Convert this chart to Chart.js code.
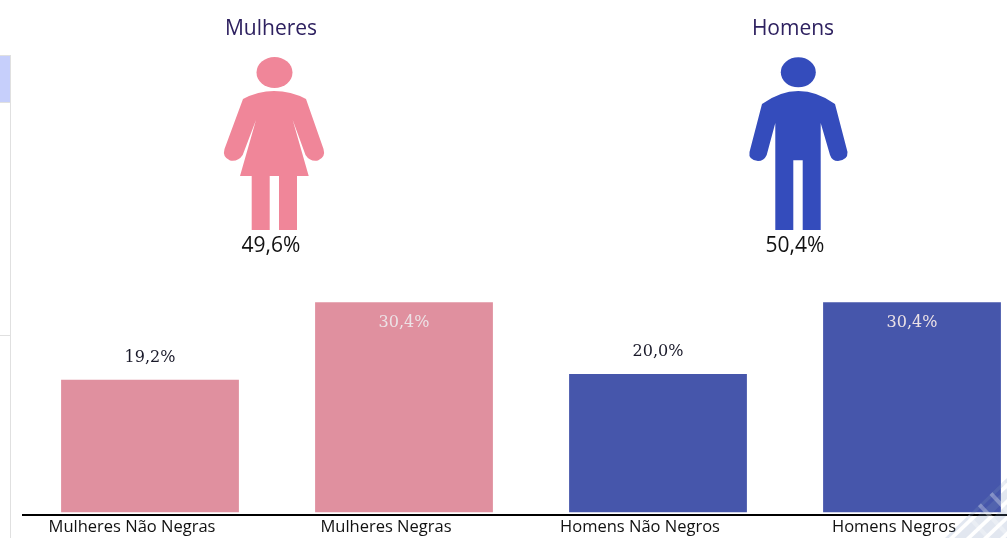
<!DOCTYPE html>
<html lang="pt">
<head>
    <meta charset="UTF-8">
    <title>Mulheres e Homens</title>
    <script src="https://cdn.jsdelivr.net/npm/chart.js"></script>
    <style>
        html, body {
            margin: 0;
            padding: 0;
            background-color: #fff;
            overflow: hidden;
        }

        .chart-container {
            position: relative;
            width: 1007px;
            height: 538px;
            overflow: hidden;
        }
    </style>
</head>
<body>
    <div class="chart-container">
        <canvas id="chart" width="1039" height="538" style="width:1039px;height:538px"></canvas>
    </div>

    <script>
        const categories = ['Mulheres Não Negras', 'Mulheres Negras', 'Homens Não Negros', 'Homens Negros'];
        const values = [19.2, 30.4, 20.0, 30.4];
        const valueLabels = ['19,2%', '30,4%', '20,0%', '30,4%'];
        const barColors = ['#e0909f', '#e0909f', '#4656ab', '#4656ab'];
        const groupNames = ['Mulheres', 'Homens'];
        const groupLabels = ['49,6%', '50,4%'];

        // Contornos dos bonecos
        const womanPath = new Path2D('M243 99 Q258 91 274 91 Q291 91 306 99 L323.5 149 Q326 157 318 160.5 Q310 162 305.5 155 L292.7 120 L308.7 176 L297 176 L297 230 L279 230 L279 176 L269.7 176 L269.7 230 L251.7 230 L251.7 176 L240 176 L256 120 L242.7 155 Q238 162 230 160.5 Q222 157 224.5 149 Z');
        const manPath = new Path2D('M762 104 Q780 91 798.3 91 Q817 91 835 104 L847.5 152 Q848 160 838 161 Q832 161 830 155 L820.7 123 L820.7 230 L802.7 230 L802.7 160.3 L793.3 160.3 L793.3 230 L775.3 230 L775.3 123 L766.7 155 Q764 161 758 161 Q748 160 749.5 152 Z');

        // Barra lateral da página, por baixo do gráfico
        const pageBackground = {
            id: 'pageBackground',
            beforeDraw(chart) {
                const ctx = chart.ctx;
                ctx.save();
                ctx.fillStyle = '#c6cffb';
                ctx.fillRect(0, 56, 10, 46);
                ctx.fillStyle = '#e0e0e0';
                ctx.fillRect(0, 55, 11, 1);
                ctx.fillRect(10, 55, 1, 483);
                ctx.fillRect(0, 102, 10, 1);
                ctx.fillRect(0, 335, 10, 1);
                ctx.restore();
            }
        };

        // Bonecos e textos por cima
        const annotations = {
            id: 'annotations',
            afterDatasetsDraw(chart) {
                const ctx = chart.ctx;
                ctx.save();

                ctx.fillStyle = '#f08699';
                ctx.fill(womanPath);
                ctx.beginPath();
                ctx.ellipse(274.5, 72.5, 18, 15.5, 0, 0, Math.PI * 2);
                ctx.fill();

                ctx.fillStyle = '#344cbc';
                ctx.fill(manPath);
                ctx.beginPath();
                ctx.ellipse(798.3, 72.3, 17.5, 15, 0, 0, Math.PI * 2);
                ctx.fill();

                ctx.textAlign = 'center';
                ctx.textBaseline = 'middle';
                ctx.font = '21px "Open Sans"';
                ctx.fillStyle = '#2e2160';
                ctx.fillText(groupNames[0], 271, 29);
                ctx.fillText(groupNames[1], 793, 29);
                ctx.fillStyle = '#111';
                ctx.fillText(groupLabels[0], 271, 246);
                ctx.fillText(groupLabels[1], 795, 246);

                // Rótulos das barras
                ctx.font = '16px "DejaVu Serif"';
                chart.getDatasetMeta(0).data.forEach(function(bar, i) {
                    const inside = values[i] > 25;
                    ctx.fillStyle = inside ? '#ece2e6' : '#1a1a2a';
                    ctx.fillText(valueLabels[i], bar.x, inside ? bar.y + 21 : bar.y - 22);
                });

                // Marca d'água no canto
                ctx.beginPath();
                ctx.moveTo(945, 538);
                ctx.lineTo(1007, 478);
                ctx.lineTo(1007, 538);
                ctx.closePath();
                ctx.clip();
                ctx.strokeStyle = 'rgba(125, 145, 185, 0.22)';
                ctx.lineWidth = 8;
                for (let d = 0; d < 6; d++) {
                    ctx.beginPath();
                    ctx.moveTo(920 + d * 17, 560);
                    ctx.lineTo(1020 + d * 17, 465);
                    ctx.stroke();
                }
                ctx.strokeStyle = 'rgba(255, 255, 255, 0.3)';
                ctx.lineWidth = 4;
                for (let d = 0; d < 6; d++) {
                    ctx.beginPath();
                    ctx.moveTo(925 + d * 22, 470);
                    ctx.lineTo(995 + d * 22, 545);
                    ctx.stroke();
                }
                ctx.restore();
            }
        };

        new Chart(document.getElementById('chart').getContext('2d'), {
            type: 'bar',
            data: {
                labels: categories,
                datasets: [{
                    data: values,
                    backgroundColor: barColors,
                    barPercentage: 0.7,
                    categoryPercentage: 1
                }]
            },
            plugins: [pageBackground, annotations],
            options: {
                responsive: false,
                animation: false,
                layout: {
                    padding: { left: 23, right: 0, top: 236, bottom: 0 }
                },
                plugins: {
                    legend: { display: false },
                    tooltip: { enabled: false }
                },
                scales: {
                    x: {
                        afterFit(scale) {
                            scale.height = 23;
                        },
                        grid: { display: false },
                        border: { color: '#000', width: 2 },
                        ticks: {
                            color: '#111',
                            padding: -6,
                            maxRotation: 0,
                            labelOffset: -18,
                            font: { family: '"Open Sans"', size: 16.5 }
                        }
                    },
                    y: {
                        display: false,
                        min: -0.4,
                        max: 40
                    }
                }
            }
        });
    </script>
</body>
</html>
